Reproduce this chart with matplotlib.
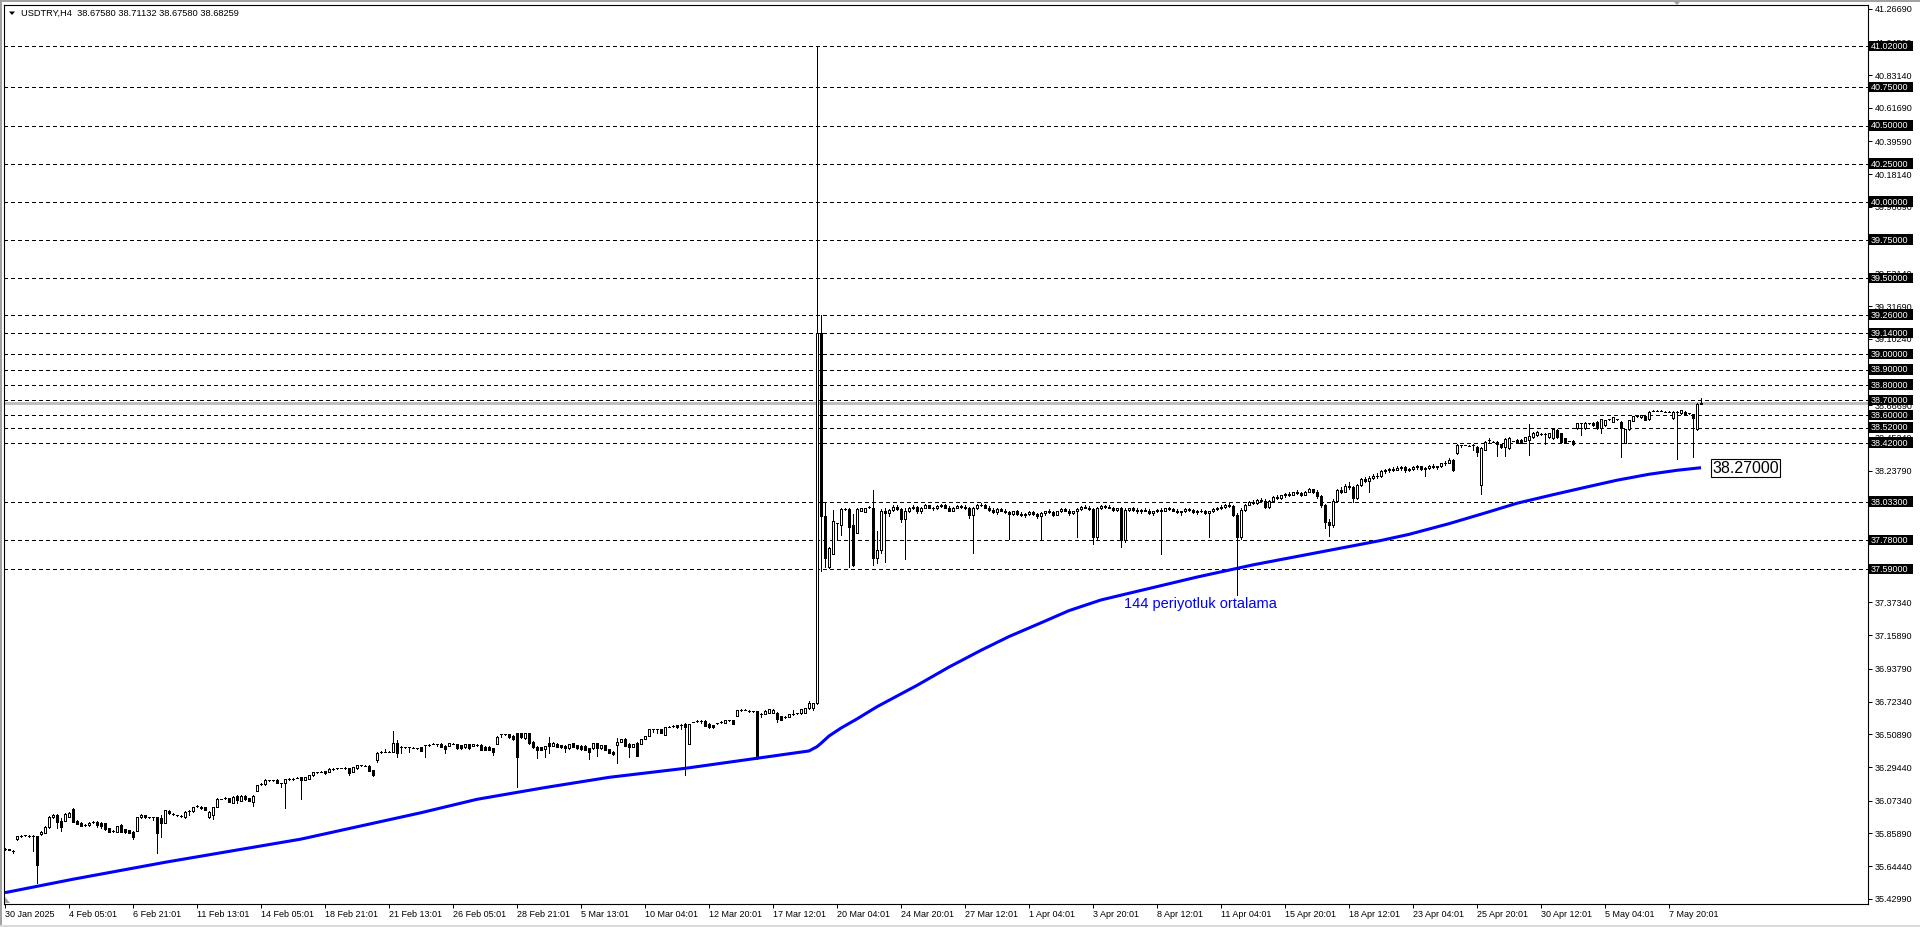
import matplotlib
matplotlib.use("Agg")
import matplotlib.pyplot as plt
from matplotlib.patches import Rectangle, Polygon
from matplotlib.lines import Line2D
import matplotlib.transforms as mtransforms

plt.rcParams['font.family'] = ['Liberation Sans', 'DejaVu Sans']

# ---------------- data ----------------
title_text = "USDTRY,H4  38.67580 38.71132 38.67580 38.68259"

xtick_labels = ["30 Jan 2025", "4 Feb 05:01", "6 Feb 21:01", "11 Feb 13:01", "14 Feb 05:01",
                "18 Feb 21:01", "21 Feb 13:01", "26 Feb 05:01", "28 Feb 21:01", "5 Mar 13:01",
                "10 Mar 04:01", "12 Mar 20:01", "17 Mar 12:01", "20 Mar 04:01", "24 Mar 20:01",
                "27 Mar 12:01", "1 Apr 04:01", "3 Apr 20:01", "8 Apr 12:01", "11 Apr 04:01",
                "15 Apr 20:01", "18 Apr 12:01", "23 Apr 04:01", "25 Apr 20:01", "30 Apr 12:01",
                "5 May 04:01", "7 May 20:01"]
xtick_bars = [0, 16, 32, 48, 64, 80, 96, 112, 128, 144, 160, 176, 192, 208, 224, 240, 256,
              272, 288, 304, 320, 336, 352, 368, 384, 400, 416]

ytick_vals = [41.26690, 41.04590, 40.83140, 40.61690, 40.39590, 40.18140, 39.96690,
              39.53140, 39.31690, 39.10240, 38.66690, 38.45240, 38.23790,
              37.80240, 37.37340, 37.15890, 36.93790, 36.72340, 36.50890, 36.29440,
              36.07340, 35.85890, 35.64440, 35.42990]

level_lines = [41.02, 40.75, 40.50, 40.25, 40.00, 39.75, 39.50, 39.26, 39.14, 39.00, 38.90,
               38.80, 38.70, 38.60, 38.52, 38.42, 38.033, 37.78, 37.59]

bid_price = 38.68259

# H4 candles, bars 0..204 (30 Jan -> spike of 19 Mar)
opens_a = [
35.760, 35.757, 35.745, 35.821, 35.845, 35.846, 35.845, 35.843, 35.840, 35.853,
35.864, 35.899, 35.965, 35.980, 35.943, 35.943, 35.969, 36.017, 35.943, 35.928,
35.915, 35.913, 35.935, 35.937, 35.930, 35.926, 35.893, 35.875, 35.871, 35.915,
35.886, 35.882, 35.869, 35.878, 35.965, 35.978, 35.965, 35.965, 35.965, 35.958,
35.930, 36.009, 35.985, 35.978, 35.974, 35.965, 36.009, 36.004, 36.039, 36.035,
36.030, 35.965, 35.980, 36.035, 36.085, 36.092, 36.090, 36.061, 36.107, 36.074,
36.107, 36.090, 36.068, 36.140, 36.183, 36.183, 36.207, 36.207, 36.210, 36.188,
36.188, 36.218, 36.218, 36.225, 36.227, 36.210, 36.218, 36.240, 36.260, 36.264,
36.267, 36.262, 36.284, 36.286, 36.288, 36.286, 36.288, 36.264, 36.286, 36.306,
36.304, 36.301, 36.275, 36.341, 36.395, 36.395, 36.395, 36.395, 36.450, 36.428,
36.424, 36.424, 36.422, 36.417, 36.424, 36.439, 36.439, 36.446, 36.443, 36.446,
36.433, 36.433, 36.448, 36.443, 36.437, 36.424, 36.443, 36.433, 36.439, 36.441,
36.428, 36.428, 36.417, 36.446, 36.511, 36.511, 36.511, 36.500, 36.516, 36.516,
36.483, 36.516, 36.461, 36.428, 36.424, 36.411, 36.450, 36.433, 36.446, 36.439,
36.433, 36.417, 36.450, 36.439, 36.433, 36.433, 36.417, 36.417, 36.450, 36.417,
36.439, 36.411, 36.395, 36.439, 36.461, 36.481, 36.446, 36.428, 36.454, 36.446,
36.481, 36.498, 36.542, 36.542, 36.542, 36.505, 36.559, 36.564, 36.570, 36.572,
36.577, 36.446, 36.590, 36.596, 36.599, 36.599, 36.577, 36.570, 36.581, 36.590,
36.585, 36.601, 36.601, 36.629, 36.669, 36.669, 36.664, 36.660, 36.660, 36.642,
36.642, 36.651, 36.651, 36.651, 36.629, 36.625, 36.625, 36.642, 36.647, 36.647,
36.651, 36.679, 36.679, 36.712, 39.140]
highs_a = [
35.765, 35.760, 35.748, 35.845, 35.850, 35.848, 35.850, 35.848, 35.845, 35.873,
35.906, 35.971, 35.985, 35.985, 35.958, 35.990, 35.997, 36.024, 35.947, 35.931,
35.920, 35.933, 35.941, 35.941, 35.934, 35.930, 35.896, 35.880, 35.910, 35.918,
35.889, 35.885, 35.872, 35.967, 35.984, 35.982, 35.970, 35.970, 35.968, 35.980,
36.015, 36.013, 35.990, 35.981, 35.977, 36.004, 36.014, 36.032, 36.046, 36.038,
36.033, 36.004, 36.032, 36.089, 36.088, 36.097, 36.093, 36.102, 36.110, 36.110,
36.110, 36.093, 36.110, 36.180, 36.188, 36.213, 36.210, 36.210, 36.213, 36.190,
36.218, 36.223, 36.223, 36.228, 36.230, 36.229, 36.242, 36.264, 36.263, 36.267,
36.270, 36.286, 36.290, 36.289, 36.291, 36.292, 36.291, 36.295, 36.310, 36.309,
36.307, 36.305, 36.278, 36.391, 36.401, 36.411, 36.398, 36.531, 36.472, 36.431,
36.427, 36.427, 36.425, 36.422, 36.428, 36.441, 36.444, 36.449, 36.446, 36.449,
36.437, 36.452, 36.451, 36.446, 36.440, 36.445, 36.446, 36.448, 36.445, 36.444,
36.431, 36.431, 36.420, 36.496, 36.513, 36.513, 36.514, 36.503, 36.520, 36.519,
36.518, 36.519, 36.464, 36.431, 36.427, 36.435, 36.494, 36.456, 36.449, 36.442,
36.436, 36.448, 36.453, 36.442, 36.436, 36.436, 36.420, 36.452, 36.453, 36.442,
36.442, 36.414, 36.398, 36.483, 36.478, 36.484, 36.449, 36.448, 36.457, 36.478,
36.500, 36.544, 36.544, 36.544, 36.545, 36.557, 36.562, 36.569, 36.573, 36.574,
36.580, 36.579, 36.593, 36.601, 36.601, 36.602, 36.580, 36.573, 36.586, 36.595,
36.604, 36.604, 36.604, 36.671, 36.674, 36.672, 36.669, 36.665, 36.663, 36.647,
36.667, 36.675, 36.672, 36.654, 36.632, 36.630, 36.645, 36.669, 36.652, 36.676,
36.681, 36.730, 36.715, 41.020, 39.260]
lows_a = [
35.752, 35.748, 35.729, 35.818, 35.838, 35.843, 35.838, 35.747, 35.534, 35.850,
35.862, 35.897, 35.962, 35.893, 35.878, 35.940, 35.966, 35.935, 35.918, 35.905,
35.908, 35.910, 35.930, 35.904, 35.893, 35.882, 35.869, 35.868, 35.868, 35.868,
35.864, 35.862, 35.821, 35.875, 35.962, 35.962, 35.958, 35.947, 35.733, 35.834,
35.926, 35.988, 35.978, 35.975, 35.970, 35.962, 35.982, 36.001, 36.033, 36.021,
36.010, 35.962, 35.952, 36.032, 36.082, 36.086, 36.065, 36.058, 36.057, 36.071,
36.080, 36.069, 36.039, 36.137, 36.177, 36.180, 36.204, 36.204, 36.190, 36.162,
36.024, 36.212, 36.212, 36.222, 36.083, 36.207, 36.215, 36.238, 36.257, 36.261,
36.250, 36.259, 36.278, 36.283, 36.285, 36.280, 36.242, 36.261, 36.283, 36.303,
36.301, 36.268, 36.238, 36.330, 36.389, 36.392, 36.392, 36.392, 36.363, 36.389,
36.421, 36.395, 36.419, 36.411, 36.400, 36.363, 36.433, 36.443, 36.430, 36.426,
36.385, 36.430, 36.445, 36.415, 36.414, 36.421, 36.414, 36.430, 36.433, 36.404,
36.403, 36.403, 36.374, 36.443, 36.494, 36.505, 36.487, 36.474, 36.166, 36.487,
36.480, 36.448, 36.421, 36.352, 36.403, 36.363, 36.385, 36.430, 36.426, 36.421,
36.395, 36.414, 36.426, 36.415, 36.409, 36.404, 36.345, 36.414, 36.367, 36.414,
36.404, 36.386, 36.376, 36.319, 36.458, 36.431, 36.358, 36.425, 36.364, 36.443,
36.478, 36.495, 36.527, 36.520, 36.518, 36.502, 36.556, 36.558, 36.553, 36.542,
36.242, 36.443, 36.587, 36.590, 36.581, 36.562, 36.553, 36.553, 36.575, 36.584,
36.582, 36.598, 36.575, 36.626, 36.663, 36.666, 36.658, 36.654, 36.350, 36.620,
36.639, 36.648, 36.648, 36.592, 36.600, 36.619, 36.622, 36.636, 36.641, 36.644,
36.648, 36.676, 36.669, 36.705, 37.580]
closes_a = [
35.756, 35.751, 35.744, 35.843, 35.846, 35.845, 35.843, 35.842, 35.652, 35.871,
35.904, 35.969, 35.982, 35.937, 35.904, 35.987, 35.995, 35.937, 35.921, 35.908,
35.915, 35.930, 35.937, 35.915, 35.908, 35.886, 35.871, 35.874, 35.908, 35.871,
35.867, 35.864, 35.838, 35.965, 35.982, 35.965, 35.964, 35.964, 35.860, 35.930,
36.013, 35.991, 35.985, 35.978, 35.974, 36.002, 36.009, 36.030, 36.039, 36.024,
36.013, 36.002, 36.030, 36.087, 36.085, 36.092, 36.068, 36.100, 36.079, 36.107,
36.083, 36.072, 36.107, 36.177, 36.183, 36.210, 36.207, 36.207, 36.192, 36.188,
36.216, 36.218, 36.219, 36.225, 36.210, 36.227, 36.240, 36.262, 36.260, 36.264,
36.253, 36.284, 36.284, 36.286, 36.288, 36.286, 36.258, 36.293, 36.308, 36.306,
36.304, 36.271, 36.242, 36.389, 36.395, 36.395, 36.395, 36.450, 36.384, 36.428,
36.424, 36.424, 36.422, 36.417, 36.402, 36.439, 36.439, 36.446, 36.443, 36.428,
36.411, 36.450, 36.448, 36.417, 36.417, 36.443, 36.417, 36.446, 36.439, 36.406,
36.406, 36.406, 36.395, 36.494, 36.511, 36.511, 36.489, 36.476, 36.363, 36.489,
36.516, 36.450, 36.424, 36.406, 36.406, 36.433, 36.433, 36.454, 36.428, 36.424,
36.417, 36.446, 36.428, 36.417, 36.411, 36.406, 36.395, 36.450, 36.417, 36.439,
36.406, 36.389, 36.378, 36.461, 36.476, 36.433, 36.424, 36.446, 36.367, 36.476,
36.498, 36.542, 36.542, 36.542, 36.520, 36.555, 36.559, 36.564, 36.555, 36.572,
36.555, 36.577, 36.590, 36.596, 36.599, 36.564, 36.555, 36.555, 36.581, 36.590,
36.601, 36.601, 36.577, 36.669, 36.669, 36.669, 36.664, 36.660, 36.352, 36.642,
36.664, 36.673, 36.669, 36.607, 36.603, 36.625, 36.642, 36.642, 36.647, 36.673,
36.679, 36.717, 36.712, 39.140, 37.943]

# H4 candles, bars 205..361 (20 Mar -> late April)
opens_b = [
37.943, 37.604, 37.692, 37.893, 37.880, 37.986, 37.986, 37.880, 37.830, 37.976,
37.968, 38.001, 37.993, 37.667, 37.717, 37.975, 37.960, 37.980, 38.000, 37.985,
37.920, 37.975, 37.995, 38.000, 37.970, 37.995, 38.010, 37.995, 37.990, 38.005,
38.015, 37.995, 37.975, 37.995, 38.005, 38.000, 37.990, 37.945, 37.990, 38.015,
38.010, 37.995, 37.980, 37.965, 37.985, 37.975, 37.965, 37.955, 37.970, 37.955,
37.945, 37.955, 37.965, 37.955, 37.940, 37.960, 37.970, 37.965, 37.950, 37.970,
37.985, 37.975, 37.960, 37.970, 37.985, 38.000, 37.995, 37.985, 37.800, 37.990,
38.005, 38.000, 37.995, 37.980, 37.990, 37.780, 37.980, 37.990, 37.980, 37.970,
37.980, 37.975, 37.960, 37.970, 37.980, 37.975, 37.990, 37.985, 37.975, 37.965,
37.970, 37.985, 37.980, 37.965, 37.975, 37.970, 37.960, 37.970, 37.985, 37.995,
38.000, 38.015, 38.005, 37.950, 37.800, 37.980, 38.015, 38.035, 38.025, 38.045,
38.040, 38.000, 38.040, 38.065, 38.060, 38.075, 38.085, 38.080, 38.095, 38.090,
38.080, 38.100, 38.115, 38.100, 38.070, 38.010, 37.900, 37.880, 38.040, 38.110,
38.100, 38.140, 38.130, 38.060, 38.145, 38.180, 38.170, 38.190, 38.205, 38.200,
38.235, 38.240, 38.250, 38.245, 38.255, 38.260, 38.240, 38.250, 38.260, 38.265,
38.250, 38.255, 38.270, 38.260, 38.265, 38.285, 38.290]
highs_b = [
38.026, 37.735, 37.981, 37.896, 37.990, 37.992, 37.990, 37.956, 37.990, 37.996,
37.996, 38.004, 38.111, 37.843, 37.985, 37.990, 37.985, 38.010, 38.015, 37.995,
37.990, 38.000, 38.010, 38.005, 38.000, 38.020, 38.015, 38.000, 38.010, 38.020,
38.020, 38.005, 38.000, 38.010, 38.015, 38.010, 38.000, 38.000, 38.020, 38.025,
38.020, 38.005, 37.995, 37.990, 37.995, 37.985, 37.975, 37.975, 37.980, 37.965,
37.960, 37.970, 37.975, 37.960, 37.965, 37.975, 37.985, 37.970, 37.975, 37.990,
37.995, 37.985, 37.975, 37.990, 38.005, 38.010, 38.005, 37.990, 38.000, 38.010,
38.015, 38.010, 38.000, 37.995, 38.000, 37.990, 37.995, 38.000, 37.990, 37.985,
37.990, 37.985, 37.975, 37.985, 37.990, 37.995, 38.000, 37.995, 37.985, 37.975,
37.990, 37.995, 37.985, 37.980, 37.985, 37.980, 37.975, 37.990, 38.000, 38.010,
38.020, 38.025, 38.010, 37.960, 37.990, 38.020, 38.040, 38.045, 38.050, 38.060,
38.050, 38.045, 38.070, 38.075, 38.080, 38.090, 38.095, 38.100, 38.110, 38.100,
38.105, 38.125, 38.120, 38.110, 38.080, 38.020, 37.920, 38.050, 38.120, 38.130,
38.150, 38.160, 38.140, 38.150, 38.190, 38.195, 38.200, 38.215, 38.220, 38.240,
38.250, 38.255, 38.260, 38.265, 38.270, 38.265, 38.255, 38.265, 38.275, 38.270,
38.260, 38.275, 38.280, 38.270, 38.290, 38.300, 38.320]
lows_b = [
37.604, 37.600, 37.688, 37.792, 37.817, 37.978, 37.604, 37.612, 37.826, 37.972,
37.965, 37.995, 37.617, 37.634, 37.700, 37.640, 37.940, 37.970, 37.980, 37.900,
37.660, 37.965, 37.985, 37.960, 37.960, 37.990, 37.990, 37.980, 37.985, 38.000,
37.990, 37.970, 37.970, 37.990, 37.995, 37.985, 37.930, 37.700, 37.985, 38.005,
37.990, 37.975, 37.960, 37.955, 37.970, 37.960, 37.790, 37.945, 37.950, 37.940,
37.935, 37.945, 37.950, 37.930, 37.790, 37.950, 37.960, 37.940, 37.945, 37.965,
37.970, 37.950, 37.955, 37.800, 37.980, 37.990, 37.980, 37.760, 37.790, 37.985,
37.995, 37.990, 37.975, 37.970, 37.740, 37.770, 37.970, 37.975, 37.960, 37.960,
37.970, 37.955, 37.950, 37.965, 37.690, 37.970, 37.980, 37.970, 37.960, 37.950,
37.965, 37.975, 37.960, 37.955, 37.965, 37.955, 37.800, 37.965, 37.980, 37.985,
37.995, 38.000, 37.940, 37.420, 37.790, 37.975, 38.010, 38.020, 38.020, 38.035,
37.990, 37.995, 38.035, 38.055, 38.050, 38.065, 38.070, 38.075, 38.085, 38.070,
38.075, 38.095, 38.090, 38.060, 38.000, 37.860, 37.810, 37.870, 38.035, 38.090,
38.095, 38.120, 38.030, 38.050, 38.140, 38.160, 38.100, 38.180, 38.190, 38.195,
38.225, 38.230, 38.235, 38.240, 38.245, 38.230, 38.235, 38.245, 38.250, 38.240,
38.200, 38.250, 38.255, 38.250, 38.260, 38.275, 38.285]
closes_b = [
37.667, 37.730, 37.905, 37.893, 37.986, 37.986, 37.868, 37.617, 37.986, 37.993,
37.993, 38.001, 37.667, 37.717, 37.975, 37.960, 37.980, 38.000, 37.985, 37.920,
37.975, 37.995, 38.000, 37.970, 37.995, 38.010, 37.995, 37.990, 38.005, 38.015,
37.995, 37.975, 37.995, 38.005, 38.000, 37.990, 37.945, 37.990, 38.015, 38.010,
37.995, 37.980, 37.965, 37.985, 37.975, 37.965, 37.955, 37.970, 37.955, 37.945,
37.955, 37.965, 37.955, 37.940, 37.960, 37.970, 37.965, 37.950, 37.970, 37.985,
37.975, 37.960, 37.970, 37.985, 38.000, 37.995, 37.985, 37.800, 37.990, 38.005,
38.000, 37.995, 37.980, 37.990, 37.780, 37.980, 37.990, 37.980, 37.970, 37.980,
37.975, 37.960, 37.970, 37.980, 37.975, 37.990, 37.985, 37.975, 37.965, 37.970,
37.985, 37.980, 37.965, 37.975, 37.970, 37.960, 37.970, 37.985, 37.995, 38.000,
38.015, 38.005, 37.950, 37.800, 37.980, 38.015, 38.035, 38.025, 38.045, 38.040,
38.000, 38.040, 38.065, 38.060, 38.075, 38.085, 38.080, 38.095, 38.090, 38.080,
38.100, 38.115, 38.100, 38.070, 38.010, 37.900, 37.880, 38.040, 38.110, 38.100,
38.140, 38.130, 38.060, 38.145, 38.180, 38.170, 38.190, 38.205, 38.200, 38.235,
38.240, 38.250, 38.245, 38.255, 38.260, 38.240, 38.250, 38.260, 38.265, 38.250,
38.255, 38.270, 38.260, 38.265, 38.285, 38.290, 38.308]

# H4 candles, bars 362..424 (late April -> 9 May)
opens_c = [
38.308, 38.356, 38.406, 38.406, 38.402, 38.406, 38.395, 38.144, 38.373, 38.439,
38.428, 38.428, 38.412, 38.395, 38.384, 38.432, 38.439, 38.439, 38.434, 38.439,
38.456, 38.471, 38.478, 38.478, 38.456, 38.450, 38.505, 38.482, 38.450, 38.432,
38.432, 38.515, 38.548, 38.515, 38.548, 38.552, 38.559, 38.515, 38.537, 38.574,
38.559, 38.574, 38.559, 38.421, 38.509, 38.565, 38.596, 38.587, 38.596, 38.574,
38.631, 38.631, 38.631, 38.624, 38.624, 38.581, 38.624, 38.614, 38.624, 38.614,
38.607, 38.509, 38.6758]
highs_c = [
38.312, 38.412, 38.408, 38.409, 38.406, 38.410, 38.400, 38.395, 38.432, 38.450,
38.431, 38.432, 38.415, 38.450, 38.456, 38.435, 38.442, 38.442, 38.458, 38.544,
38.490, 38.496, 38.484, 38.482, 38.484, 38.515, 38.509, 38.486, 38.453, 38.435,
38.436, 38.552, 38.553, 38.556, 38.551, 38.556, 38.563, 38.577, 38.572, 38.578,
38.590, 38.578, 38.563, 38.512, 38.572, 38.598, 38.600, 38.605, 38.600, 38.628,
38.635, 38.634, 38.634, 38.627, 38.627, 38.626, 38.627, 38.637, 38.628, 38.617,
38.611, 38.680, 38.71132]
lows_c = [
38.235, 38.350, 38.395, 38.403, 38.396, 38.370, 38.334, 38.082, 38.370, 38.420,
38.425, 38.334, 38.384, 38.334, 38.380, 38.429, 38.418, 38.418, 38.430, 38.340,
38.452, 38.468, 38.470, 38.412, 38.452, 38.446, 38.452, 38.424, 38.418, 38.429,
38.408, 38.512, 38.471, 38.512, 38.545, 38.533, 38.512, 38.482, 38.533, 38.570,
38.555, 38.570, 38.329, 38.421, 38.505, 38.560, 38.592, 38.584, 38.568, 38.570,
38.628, 38.628, 38.628, 38.621, 38.621, 38.577, 38.312, 38.610, 38.605, 38.611,
38.329, 38.505, 38.6758]
closes_c = [
38.242, 38.406, 38.406, 38.406, 38.402, 38.404, 38.362, 38.384, 38.428, 38.439,
38.428, 38.412, 38.395, 38.443, 38.450, 38.432, 38.421, 38.421, 38.456, 38.465,
38.487, 38.493, 38.478, 38.478, 38.482, 38.509, 38.456, 38.428, 38.421, 38.432,
38.412, 38.548, 38.548, 38.552, 38.548, 38.537, 38.515, 38.574, 38.570, 38.574,
38.587, 38.574, 38.515, 38.509, 38.570, 38.596, 38.596, 38.603, 38.570, 38.624,
38.631, 38.631, 38.631, 38.624, 38.624, 38.624, 38.624, 38.635, 38.609, 38.614,
38.581, 38.675, 38.68259]

# 144-period moving average, read at selected bars
ma_bars = [0, 17, 40, 74, 104, 118, 135, 151, 170, 188, 201, 203, 204, 206, 209, 213,
           218, 223, 228, 236, 244, 251, 259, 266, 274, 282, 290, 298, 305, 312, 320,
           328, 336, 344, 351, 356, 361, 370, 378, 387, 395, 403, 411, 418, 424]
ma_vals = [35.471, 35.559, 35.670, 35.822, 35.995, 36.083, 36.160, 36.227, 36.286, 36.352,
           36.400, 36.428, 36.450, 36.498, 36.550, 36.610, 36.690, 36.760, 36.830, 36.950,
           37.060, 37.150, 37.240, 37.320, 37.390, 37.440, 37.490, 37.540, 37.580, 37.620,
           37.660, 37.700, 37.740, 37.780, 37.820, 37.855, 37.890, 37.960, 38.024, 38.080,
           38.128, 38.175, 38.214, 38.240, 38.257]

ma_label = "38.27000"
ma_label_pos = (426.8, 38.255)
ma_text = "144 periyotluk ortalama"
ma_text_pos = (279.8, 37.363)

# ---------------- layout ----------------
W, H = 1920, 927
fig = plt.figure(figsize=(W / 100, H / 100), dpi=100)
fig.patch.set_facecolor('white')
L, R, T, B = 4, 1868, 5, 904
ax = fig.add_axes([L / W, 1 - B / H, (R - L) / W, (B - T) / H])
ax.set_facecolor('white')
ax.set_axisbelow(True)

ax.set_xlim(-0.25, 465.75)
ax.set_ylim(35.3966, 41.2905)
PPX = (41.2905 - 35.3966) / (B - T)  # price per pixel

for sp in ax.spines.values():
    sp.set_color('black')
    sp.set_linewidth(0.8)

for lv in level_lines:
    ax.axhline(lv, color='black', lw=0.72, ls=(0, (3, 3)), zorder=1.5, antialiased=False)
ax.axhline(bid_price, color='#C0C0C0', lw=0.9, zorder=1.4, antialiased=False)

opens = opens_a + opens_b + opens_c
highs = highs_a + highs_b + highs_c
lows = lows_a + lows_b + lows_c
closes = closes_a + closes_b + closes_c

for i, (o, h, l, c) in enumerate(zip(opens, highs, lows, closes)):
    ax.add_line(Line2D([i, i], [l, h], color='black', lw=0.72, zorder=3, antialiased=False))
    if abs(c - o) < 0.0018:
        ax.add_line(Line2D([i - 0.3, i + 0.3], [o, o], color='black', lw=0.72, zorder=4,
                           antialiased=False))
    else:
        ax.add_patch(Rectangle((i - 0.28, min(o, c)), 0.56, abs(c - o),
                               fc='white' if c > o else 'black', ec='black', lw=0.72,
                               zorder=4, antialiased=False))

ax.plot(ma_bars, ma_vals, color='#0000FF', lw=2.2, zorder=5, solid_joinstyle='round',
        solid_capstyle='butt')

ax.text(ma_text_pos[0], ma_text_pos[1], ma_text, color='#0000FF', fontsize=10.5,
        ha='left', va='center', zorder=6)
ax.text(ma_label_pos[0], ma_label_pos[1], ma_label, color='black', fontsize=11.5,
        ha='left', va='center', zorder=6, clip_on=False,
        bbox=dict(boxstyle='square,pad=0.1', fc='white', ec='black', lw=0.8))

ax.yaxis.tick_right()
ax.set_yticks(ytick_vals)
ax.set_yticklabels([f"{v:.5f}" for v in ytick_vals])
ax.tick_params(axis='y', direction='out', length=3, width=0.72, pad=2, labelsize=6.5,
               colors='black')
ax.set_xticks(xtick_bars)
ax.set_xticklabels(xtick_labels, ha='left')
ax.tick_params(axis='x', direction='out', length=3, width=0.72, pad=1.5, labelsize=6.5,
               colors='black')

bt = mtransforms.blended_transform_factory(fig.transFigure, ax.transData)
for lv in level_lines:
    ax.add_patch(Rectangle((1869 / W, lv - 5 * PPX), 44 / W, 10.5 * PPX, transform=bt,
                           fc='black', ec='black', lw=0, zorder=7, clip_on=False))
    ax.text(1871 / W, lv - 0.3 * PPX, f"{lv:.5f}", transform=bt, color='white', fontsize=6.5,
            ha='left', va='center', zorder=8, clip_on=False)

fig.text(21 / W, 1 - 13.5 / H, title_text, fontsize=6.7, ha='left', va='center', color='black')
fig.add_artist(Polygon([(9 / W, 1 - 11.5 / H), (15 / W, 1 - 11.5 / H), (12 / W, 1 - 15 / H)],
                       closed=True, fc='black', ec='none', transform=fig.transFigure))
fig.add_artist(Polygon([(1673 / W, 1 - 1 / H), (1681 / W, 1 - 1 / H), (1677 / W, 1 - 5 / H)],
                       closed=True, fc='#A0A0A0', ec='none', transform=fig.transFigure))
fig.add_artist(Polygon([(5 / W, 1 - 897 / H), (5 / W, 1 - 903 / H), (10 / W, 1 - 903 / H)],
                       closed=True, fc='#A0A0A0', ec='none', transform=fig.transFigure))
fig.add_artist(Line2D([0.5 / W, 0.5 / W], [0, 1], color='#A0A0A0', lw=1.4, transform=fig.transFigure))
fig.add_artist(Line2D([0, 1], [1 - 0.5 / H, 1 - 0.5 / H], color='#A0A0A0', lw=1.4, transform=fig.transFigure))
fig.add_artist(Line2D([0, 1], [1 - 925.5 / H, 1 - 925.5 / H], color='#DADADA', lw=1.4, transform=fig.transFigure))

fig.savefig("out.png", dpi=100, facecolor='white')
